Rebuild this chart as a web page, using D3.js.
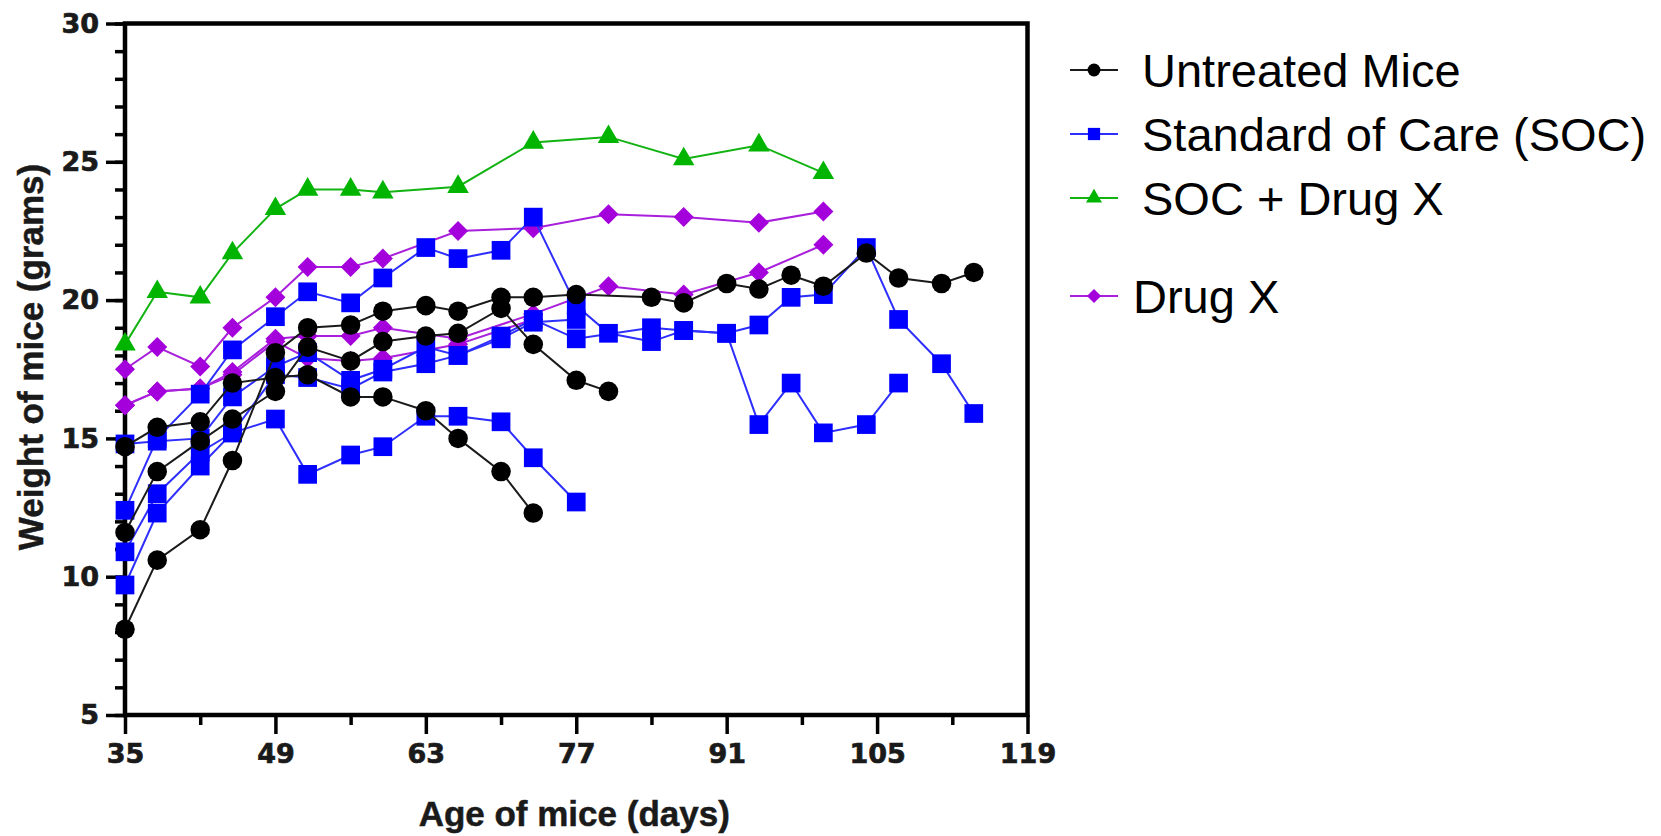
<!DOCTYPE html>
<html>
<head>
<meta charset="utf-8">
<script src="https://cdn.jsdelivr.net/npm/d3@7"></script>
<style>
  body { margin: 0; background: #fff; }
</style>
</head>
<body>
<script>
//Tick values
var yMajor = [5, 10, 15, 20, 25, 30];
var yMinor = d3.range(5, 31, 1);
var xMajor = [35, 49, 63, 77, 91, 105, 119];
var xMinor = [42, 56, 70, 84, 98, 112];

//Untreated mice, [day, grams]
var untreatedA = [[35,8.1],[38,10.6],[42,11.7],[45,14.2],[49,18.1],[52,19.0],[56,19.1],[59,19.6],[63,19.8],[66,19.6],[70,20.1],[73,20.1],[77,20.2],[84,20.1],[87,19.9],[91,20.6],[94,20.4],[97,20.9],[100,20.5],[104,21.7],[107,20.8],[111,20.6],[114,21.0]];
var untreatedB = [[35,11.6],[38,13.8],[42,14.9],[45,15.7],[49,16.7],[52,18.3],[56,17.8],[59,18.5],[63,18.7],[66,18.8],[70,19.7],[73,18.4],[77,17.1],[80,16.7]];
var untreatedC = [[35,14.7],[38,15.4],[42,15.6],[45,17.0],[49,17.2],[52,17.3],[56,16.5],[59,16.5],[63,16.0],[66,15.0],[70,13.8],[73,12.3]];

//Standard of care
var socA = [[35,12.4],[38,15.0],[42,16.6],[45,18.2],[49,19.4],[52,20.3],[56,19.9],[59,20.8],[63,21.9],[66,21.5],[70,21.8],[73,23.0],[77,19.8],[80,18.8],[84,18.5],[87,18.9],[91,18.8],[94,15.5],[97,17.0],[100,15.2],[104,15.5],[107,17.0]];
var socB = [[35,14.8],[38,14.9],[42,15.0],[45,16.5],[49,17.6],[52,18.1],[56,17.1],[59,17.5],[63,18.3],[66,18.0],[70,18.7],[73,19.3],[77,18.6],[84,19.0],[87,18.9],[91,18.8],[94,19.1],[97,20.1],[100,20.2],[104,21.9],[107,19.3],[111,17.7],[114,15.9]];
var socC = [[35,10.9],[38,13.0],[42,14.5],[45,15.2],[49,17.3],[52,17.2],[56,16.8],[59,17.4],[63,17.7],[66,18.0],[70,18.6],[73,19.2],[77,19.3]];
var socD = [[35,9.7],[38,12.3],[42,14.0],[45,15.2],[49,15.7],[52,13.7],[56,14.4],[59,14.7],[63,15.8],[66,15.8],[70,15.6],[73,14.3],[77,12.7]];

//SOC + Drug X
var comboA = [[35,18.4],[38,20.3],[42,20.1],[45,21.7],[49,23.3],[52,24.0],[56,24.0],[59,23.9],[66,24.1],[73,25.7],[80,25.9],[87,25.1],[94,25.6],[100,24.6]];

//Drug X
var drugA = [[35,17.5],[38,18.3],[42,17.6],[45,19.0],[49,20.1],[52,21.2],[56,21.2],[59,21.5],[66,22.5],[73,22.6],[80,23.1],[87,23.0],[94,22.8],[100,23.2]];
var drugB = [[35,16.2],[38,16.7],[42,16.8],[45,17.4],[49,18.6],[52,18.7],[56,18.7],[59,19.0],[66,18.6],[73,19.5],[80,20.5],[87,20.2],[94,21.0],[100,22.0]];
var drugC = [[35,16.2],[38,16.7],[42,16.8],[45,17.3],[49,18.5],[52,17.9],[56,17.8],[59,17.9],[66,18.4],[73,19.3]];

var legendNames = ["Untreated Mice", "Standard of Care (SOC)", "SOC + Drug X", "Drug X"];

//Width and height
var w = 1661;
var h = 836;

//Rhombus marker like the prism diamond
var symbolRhombus = {
    draw: function(ctx, size) {
        var r = Math.sqrt(size / 2);
        ctx.moveTo(0, -r);
        ctx.lineTo(r, 0);
        ctx.lineTo(0, r);
        ctx.lineTo(-r, 0);
        ctx.closePath();
    }
};

//Groups, drawn bottom to top
var groups = [
    { name: legendNames[2], fill: "#00b400", stroke: "#12b312", symbol: d3.symbolTriangle, size: 200, lsize: 110, mice: [comboA] },
    { name: legendNames[3], fill: "#a400dc", stroke: "#a81fdc", symbol: symbolRhombus, size: 200, lsize: 100, mice: [drugA, drugB, drugC] },
    { name: legendNames[1], fill: "#0000ff", stroke: "#2e2eff", symbol: d3.symbolSquare, size: 350, lsize: 150, mice: [socA, socB, socC, socD] },
    { name: legendNames[0], fill: "#000000", stroke: "#1a1a1a", symbol: d3.symbolCircle, size: 300, lsize: 130, mice: [untreatedA, untreatedB, untreatedC] }
];

//Create SVG element
var svg = d3.select("body")
            .append("svg")
            .attr("width", w)
            .attr("height", h);

var x = d3.scaleLinear().domain([35, 119]).range([125, 1027.5]);
var y = d3.scaleLinear().domain([5, 30]).range([715, 23.5]);

var line = d3.line()
             .x((d) => x(d[0]))
             .y((d) => y(d[1]));

//Axes
function styleAxis(g) {
    g.select(".domain").remove();
    g.selectAll(".tick line").attr("stroke", "#000").attr("stroke-width", 3.5);
    g.selectAll(".tick text")
     .attr("fill", "#1a1a1a")
     .attr("stroke", "#1a1a1a")
     .attr("stroke-width", 0.7)
     .attr("font-family", "DejaVu Sans, sans-serif")
     .attr("font-weight", "bold")
     .attr("font-size", "27px");
}

svg.append("g")
   .attr("transform", "translate(" + x(35) + ",0)")
   .call(d3.axisLeft(y).tickValues(yMinor).tickSize(10).tickFormat(""))
   .call(styleAxis);

svg.append("g")
   .attr("transform", "translate(" + x(35) + ",0)")
   .call(d3.axisLeft(y).tickValues(yMajor).tickSize(19).tickPadding(7))
   .call(styleAxis);

svg.append("g")
   .attr("transform", "translate(0," + y(5) + ")")
   .call(d3.axisBottom(x).tickValues(xMinor).tickSize(10).tickFormat(""))
   .call(styleAxis);

svg.append("g")
   .attr("transform", "translate(0," + y(5) + ")")
   .call(d3.axisBottom(x).tickValues(xMajor).tickSize(19).tickPadding(10))
   .call(styleAxis);

//Frame
svg.append("path")
   .attr("d", "M" + x(35) + "," + y(5) + "V" + y(30) + "H" + x(119) + "V" + y(5) + "Z")
   .attr("fill", "none")
   .attr("stroke", "#000")
   .attr("stroke-width", 4.5);

//Axis titles
svg.append("text")
   .attr("x", (x(35) + x(119)) / 2 - 2)
   .attr("y", 826)
   .attr("text-anchor", "middle")
   .attr("font-family", "Liberation Sans, Arial, sans-serif")
   .attr("font-weight", "bold")
   .attr("font-size", "35px")
   .attr("fill", "#1a1a1a")
   .attr("stroke", "#1a1a1a")
   .attr("stroke-width", 0.5)
   .text("Age of mice (days)");

svg.append("text")
   .attr("transform", "translate(43,357) rotate(-90)")
   .attr("text-anchor", "middle")
   .attr("font-family", "Liberation Sans, Arial, sans-serif")
   .attr("font-weight", "bold")
   .attr("font-size", "35px")
   .attr("fill", "#1a1a1a")
   .attr("stroke", "#1a1a1a")
   .attr("stroke-width", 0.5)
   .text("Weight of mice (grams)");

//Lines and markers
groups.forEach((g) => {
    var layer = svg.append("g");
    layer.selectAll("path.line")
         .data(g.mice)
         .enter()
         .append("path")
         .attr("class", "line")
         .attr("d", line)
         .attr("fill", "none")
         .attr("stroke", g.stroke)
         .attr("stroke-width", 2);

    g.mice.forEach((m) => {
        layer.selectAll(null)
             .data(m)
             .enter()
             .append("path")
             .attr("transform", (d) => "translate(" + x(d[0]) + "," + y(d[1]) + ")")
             .attr("d", d3.symbol().type(g.symbol).size(g.size))
             .attr("fill", g.fill);
    });
});

//Legend
var legendRows = [
    { group: groups[3], cy: 70, tx: 1142 },
    { group: groups[2], cy: 134, tx: 1142 },
    { group: groups[0], cy: 198, tx: 1142 },
    { group: groups[1], cy: 296, tx: 1133 }
];

var legend = svg.append("g");
legendRows.forEach((r) => {
    legend.append("line")
          .attr("x1", 1070).attr("x2", 1118)
          .attr("y1", r.cy).attr("y2", r.cy)
          .attr("stroke", r.group.stroke)
          .attr("stroke-width", 2);
    legend.append("path")
          .attr("transform", "translate(1094," + r.cy + ")")
          .attr("d", d3.symbol().type(r.group.symbol).size(r.group.lsize))
          .attr("fill", r.group.fill);
    legend.append("text")
          .attr("x", r.tx)
          .attr("y", r.cy + 17)
          .attr("font-family", "Liberation Sans, Arial, sans-serif")
          .attr("font-size", "47px")
          .attr("fill", "#000")
          .text(r.group.name);
});
</script>
</body>
</html>
